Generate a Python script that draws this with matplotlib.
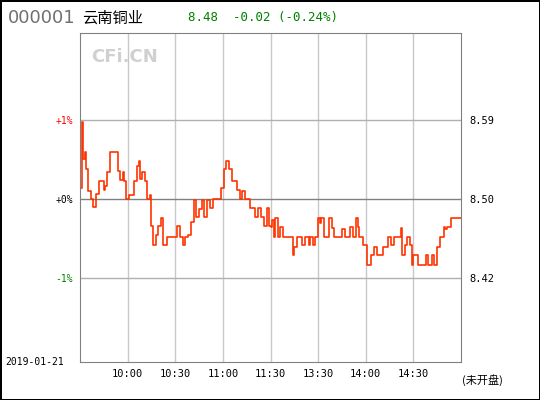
import matplotlib
matplotlib.use("Agg")
import matplotlib.pyplot as plt

code = "000001"
name = "云南铜业"
quote = "8.48  -0.02 (-0.24%)"
date = "2019-01-21"
prev_close = 8.50
time_labels = ["10:00", "10:30", "11:00", "11:30", "13:30", "14:00", "14:30"]
time_pos = [30, 60, 90, 120, 150, 180, 210]
pct_ticks = [1, 0, -1]
pct_labels = ["+1%", "+0%", "-1%"]
price_labels = ["8.59", "8.50", "8.42"]

minutes = [0, 1, 2, 3, 4, 5, 7, 8, 10, 12, 14, 15, 16, 17, 19, 22, 24, 25, 27, 28, 29, 31, 34, 36, 37, 38, 39, 41, 42, 44, 45, 46, 48, 49, 51, 52, 55, 60, 61, 63, 65, 66, 68, 70, 72, 73, 75, 77, 78, 80, 82, 84, 87, 89, 91, 92, 94, 96, 99, 101, 102, 104, 107, 110, 112, 114, 116, 118, 119,
           120, 121, 122, 123, 125, 126, 128, 132, 134, 135, 137, 140, 142, 144, 145, 147, 148, 150, 151, 152, 154, 157, 159, 160, 164, 165, 167, 169, 170, 172, 174, 175, 176, 178, 181, 183, 185, 187, 189, 191, 194, 196, 198, 201, 202, 203, 205, 206, 208, 209, 210, 213, 216, 218, 219, 221, 222, 223, 225, 227, 229, 230, 231, 234, 238, 240]
pct = [0.13, 0.97, 0.5, 0.59, 0.38, 0.1, 0.0, -0.1, 0.06, 0.23, 0.23, 0.11, 0.16, 0.34, 0.59, 0.59, 0.35, 0.24, 0.34, 0.23, 0.0, 0.05, 0.23, 0.42, 0.48, 0.25, 0.34, 0.23, 0.0, 0.05, -0.34, -0.59, -0.46, -0.35, -0.24, -0.59, -0.48, -0.48, -0.35, -0.48, -0.59, -0.48, -0.46, -0.29, -0.02, -0.23, -0.13, -0.02, -0.23, -0.02, -0.12, 0.0, 0.0, 0.13, 0.38, 0.48, 0.38, 0.23, 0.11, 0.0, 0.1, 0.0, -0.12, -0.23, -0.12, -0.23, -0.35, -0.12, -0.35,
       -0.36, -0.27, -0.48, -0.25, -0.48, -0.36, -0.48, -0.48, -0.72, -0.61, -0.48, -0.59, -0.48, -0.59, -0.48, -0.59, -0.48, -0.24, -0.31, -0.24, -0.48, -0.25, -0.37, -0.48, -0.48, -0.38, -0.48, -0.48, -0.36, -0.48, -0.24, -0.36, -0.48, -0.59, -0.84, -0.72, -0.61, -0.72, -0.72, -0.61, -0.48, -0.59, -0.48, -0.48, -0.37, -0.72, -0.59, -0.48, -0.59, -0.84, -0.72, -0.84, -0.84, -0.72, -0.84, -0.84, -0.72, -0.84, -0.61, -0.48, -0.36, -0.38, -0.36, -0.24, -0.24, -0.24]

fig = plt.figure(figsize=(5.4, 4.0), dpi=100)
fig.patch.set_edgecolor("black")
fig.patch.set_linewidth(2)
ax = fig.add_axes([80/540, 1-362/400, 381/540, 329/400])
ax.set_xlim(0, 240)
ax.set_ylim(-2.07, 2.1)
for s in ax.spines.values():
    s.set_color("#808080")
for t in time_pos:
    ax.axvline(t, color="#c8c8c8", lw=1)
ax.axhline(1, color="#b0b0b0", lw=1)
ax.axhline(-1, color="#b0b0b0", lw=1)
ax.axhline(0, color="#808080", lw=1)
ax.plot(minutes, pct, color="#ff3300", lw=1.2, drawstyle="steps-post")

ax.set_xticks(time_pos)
ax.set_xticklabels(time_labels, fontsize=7.5, family="DejaVu Sans Mono")
ax.tick_params(length=0, pad=5)
ax.set_yticks(pct_ticks)
ax.set_yticklabels(pct_labels, fontsize=7, family="DejaVu Sans Mono")
for lbl, c in zip(ax.get_yticklabels(), ["red", "black", "green"]):
    lbl.set_color(c)
ax2 = ax.twinx()
ax2.set_ylim(ax.get_ylim())
ax2.set_yticks(pct_ticks)
ax2.set_yticklabels(price_labels, fontsize=7.5, family="DejaVu Sans Mono")
ax2.tick_params(length=0, pad=6)
for s in ax2.spines.values():
    s.set_visible(False)

ax.text(0.03, 0.955, "CFi.CN", transform=ax.transAxes, fontsize=13, fontweight="bold",
        color="#d0d0d0", va="top", ha="left")
fig.text(8/540, 1-18/400, code, fontsize=13, color="#707070", va="center", family="DejaVu Sans")
fig.text(82/540, 1-18/400, name, fontsize=11, color="black", va="center", family=["Noto Sans CJK SC"])
fig.text(188/540, 1-18/400, quote, fontsize=9, color="green", va="center", family="DejaVu Sans Mono")
fig.text(5/540, 1-362/400, date, fontsize=7, color="black", va="center", family="DejaVu Sans Mono")
fig.text(462/540, 1-380/400, "(未开盘)", fontsize=8, color="black", va="center",
         family=["Noto Sans CJK SC", "DejaVu Sans"])
fig.savefig("out.png", dpi=100, edgecolor=fig.get_edgecolor())
